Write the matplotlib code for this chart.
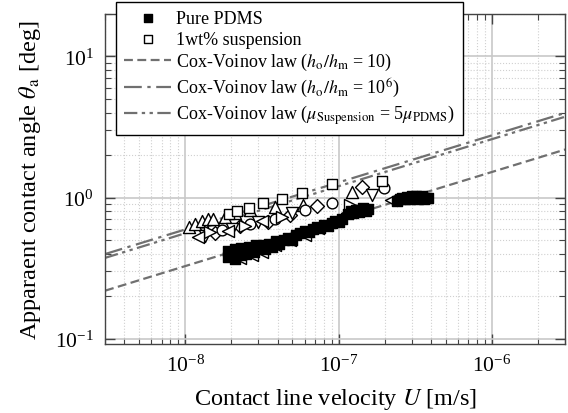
import matplotlib
matplotlib.use("Agg")
import matplotlib.pyplot as plt
from matplotlib.ticker import LogLocator, NullFormatter

plt.rcParams["font.family"] = ["Liberation Serif", "DejaVu Serif"]
plt.rcParams["mathtext.fontset"] = "stix"

# ---- data ----
# Pure PDMS, filled squares
pdms_u = [1.9e-8, 1.9e-8, 2.0e-8, 2.1e-8, 2.1e-8, 2.2e-8, 2.3e-8, 2.3e-8, 2.4e-8, 2.5e-8,
          2.6e-8, 2.7e-8, 2.8e-8, 2.9e-8, 3.0e-8, 3.2e-8, 3.3e-8, 3.5e-8, 3.7e-8, 3.9e-8,
          4.1e-8, 4.4e-8, 4.7e-8, 5.0e-8, 5.3e-8, 5.6e-8, 6.0e-8, 6.4e-8, 6.8e-8, 7.2e-8,
          7.6e-8, 8.0e-8, 8.5e-8, 9.0e-8, 9.5e-8, 1.0e-7, 1.05e-7,
          1.15e-7, 1.2e-7, 1.25e-7, 1.3e-7, 1.35e-7, 1.4e-7, 1.45e-7, 1.5e-7, 1.55e-7,
          2.4e-7, 2.5e-7, 2.6e-7, 2.7e-7, 2.8e-7, 2.9e-7, 3.0e-7, 3.1e-7, 3.2e-7, 3.3e-7,
          3.4e-7, 3.5e-7, 3.6e-7, 3.7e-7, 3.8e-7]
pdms_theta = [0.38, 0.42, 0.40, 0.37, 0.43, 0.41, 0.39, 0.44, 0.42, 0.40,
              0.45, 0.43, 0.41, 0.46, 0.44, 0.46, 0.43, 0.47, 0.45, 0.49,
              0.47, 0.50, 0.52, 0.50, 0.54, 0.56, 0.58, 0.57, 0.60, 0.62,
              0.61, 0.64, 0.63, 0.66, 0.68, 0.67, 0.70,
              0.76, 0.80, 0.78, 0.82, 0.79, 0.81, 0.84, 0.80, 0.83,
              0.95, 0.98, 1.00, 0.97, 1.01, 0.98, 1.02, 0.99, 1.03, 0.98,
              1.00, 1.02, 0.98, 1.00, 0.99]

# 1wt% suspension, open squares
susp_u = [1.93e-8, 2.18e-8, 2.60e-8, 3.21e-8, 4.27e-8, 5.75e-8, 9.0e-8, 1.93e-7]
susp_theta = [0.76, 0.80, 0.84, 0.92, 0.97, 1.08, 1.24, 1.30]

# other suspension runs (no legend entry)
tri_up_u = [1.05e-8, 1.16e-8, 1.29e-8, 1.41e-8, 1.52e-8, 1.82e-8, 2.11e-8, 2.64e-8,
            3.84e-8, 5.84e-8, 1.23e-7]
tri_up_theta = [0.62, 0.65, 0.68, 0.70, 0.71, 0.73, 0.78, 0.81, 0.86, 0.89, 1.10]

diam_u = [1.57e-8, 2.28e-8, 3.46e-8, 4.81e-8, 7.2e-8, 1.41e-7]
diam_theta = [0.565, 0.633, 0.676, 0.758, 0.878, 1.18]

circ_u = [1.74e-8, 2.64e-8, 3.84e-8, 6.01e-8, 9.0e-8, 1.99e-7]
circ_theta = [0.593, 0.654, 0.71, 0.822, 0.922, 1.16]

tri_down_u = [1.35e-8, 2.02e-8, 2.98e-8, 4.95e-8, 1.66e-7]
tri_down_theta = [0.538, 0.603, 0.676, 0.783, 1.05]

tri_right_u = [1.45e-8, 2.45e-8, 4.27e-8, 1.18e-7]
tri_right_theta = [0.574, 0.633, 0.733, 0.892]

tri_left_u = [1.21e-8, 1.90e-8, 3.16e-8, 2.28e-8, 2.72e-8, 3.16e-8, 3.84e-8, 4.81e-8,
              6.01e-8, 7.31e-8, 1.14e-7, 2.21e-7]
tri_left_theta = [0.529, 0.583, 0.687, 0.375, 0.394, 0.414, 0.464, 0.504,
                  0.547, 0.613, 0.783, 0.968]

# Cox-Voinov law lines (end points)
cv_u = [3e-9, 3e-6]
cv_h10 = [0.219, 2.19]
cv_h1e6 = [0.398, 3.98]
cv_mu = [0.374, 3.74]

# ---- plot ----
fig = plt.figure(figsize=(5.68, 4.14), dpi=100)
ax = fig.add_axes([0.185, 0.167, 0.81, 0.797])
ax.set_xscale("log")
ax.set_yscale("log")

line_color = "#707070"
ax.plot(cv_u, cv_h10, linestyle=(0, (4, 2)), color=line_color, lw=1.6,
        label=r"Cox-Voinov law ($h_\mathrm{o}/h_\mathrm{m}$ = 10)", zorder=2)
ax.plot(cv_u, cv_h1e6, linestyle=(0, (8, 2.5, 1.5, 2.5)), color=line_color, lw=1.6,
        label=r"Cox-Voinov law ($h_\mathrm{o}/h_\mathrm{m}$ = 10$^6$)", zorder=2)
ax.plot(cv_u, cv_mu, linestyle=(0, (6, 2, 1.5, 2, 1.5, 2)), color=line_color, lw=1.6,
        label=r"Cox-Voinov law ($\mu_\mathrm{Suspension}$ = 5$\mu_\mathrm{PDMS}$)", zorder=2)

open_kw = dict(facecolor="white", edgecolor="black", linewidths=1.0, s=75, zorder=3)
ax.scatter(tri_up_u, tri_up_theta, marker="^", **open_kw)
ax.scatter(diam_u, diam_theta, marker="D", **{**open_kw, "s": 50})
ax.scatter(circ_u, circ_theta, marker="o", **{**open_kw, "s": 60})
ax.scatter(tri_down_u, tri_down_theta, marker="v", **open_kw)
ax.scatter(tri_right_u, tri_right_theta, marker=">", **open_kw)
ax.scatter(tri_left_u, tri_left_theta, marker="<", **open_kw)
ax.scatter(susp_u, susp_theta, marker="s", label="1wt% suspension", **{**open_kw, "s": 60})
ax.scatter(pdms_u, pdms_theta, marker="s", facecolor="black", edgecolor="black",
           s=60, zorder=4, label="Pure PDMS")

ax.set_xlim(3e-9, 3e-6)
ax.set_ylim(0.092, 20)

ax.xaxis.set_major_locator(LogLocator(base=10, numticks=10))
ax.xaxis.set_minor_locator(LogLocator(base=10, subs=range(2, 10), numticks=20))
ax.yaxis.set_minor_locator(LogLocator(base=10, subs=range(2, 10), numticks=20))
ax.xaxis.set_minor_formatter(NullFormatter())
ax.yaxis.set_minor_formatter(NullFormatter())

ax.grid(True, which="major", color="#c8c8c8", lw=1.2, ls="-")
ax.grid(True, which="minor", color="#d0d0d0", lw=0.8, ls=":")
ax.set_axisbelow(True)

ax.tick_params(which="both", direction="in", top=True, right=True, labelsize=15.5,
               color="#444444")
ax.tick_params(which="major", length=7, width=1, pad=8)
ax.tick_params(which="minor", length=4, width=0.8)
for sp in ax.spines.values():
    sp.set_color("#444444")
    sp.set_linewidth(1.0)

ax.set_xlabel(r"Contact line velocity $U$ [m/s]", fontsize=17.5, labelpad=7)
ax.set_ylabel(r"Apparaent contact angle $\theta_\mathrm{a}$ [deg]", fontsize=17.5, labelpad=9)

handles, labels = ax.get_legend_handles_labels()
order = [labels.index("Pure PDMS"), labels.index("1wt% suspension"), 0, 1, 2]
leg = ax.legend([handles[i] for i in order], [labels[i] for i in order],
                loc="upper left", bbox_to_anchor=(116 / 568, 1 - 3 / 414),
                bbox_transform=fig.transFigure, fontsize=13, frameon=True,
                fancybox=False, edgecolor="black", framealpha=1,
                handlelength=2.6, handletextpad=0.3, borderpad=0.45,
                borderaxespad=0, labelspacing=0.2, markerscale=0.75)
leg.get_frame().set_linewidth(1.0)
leg.set_zorder(10)

fig.savefig("out.png", dpi=100)
